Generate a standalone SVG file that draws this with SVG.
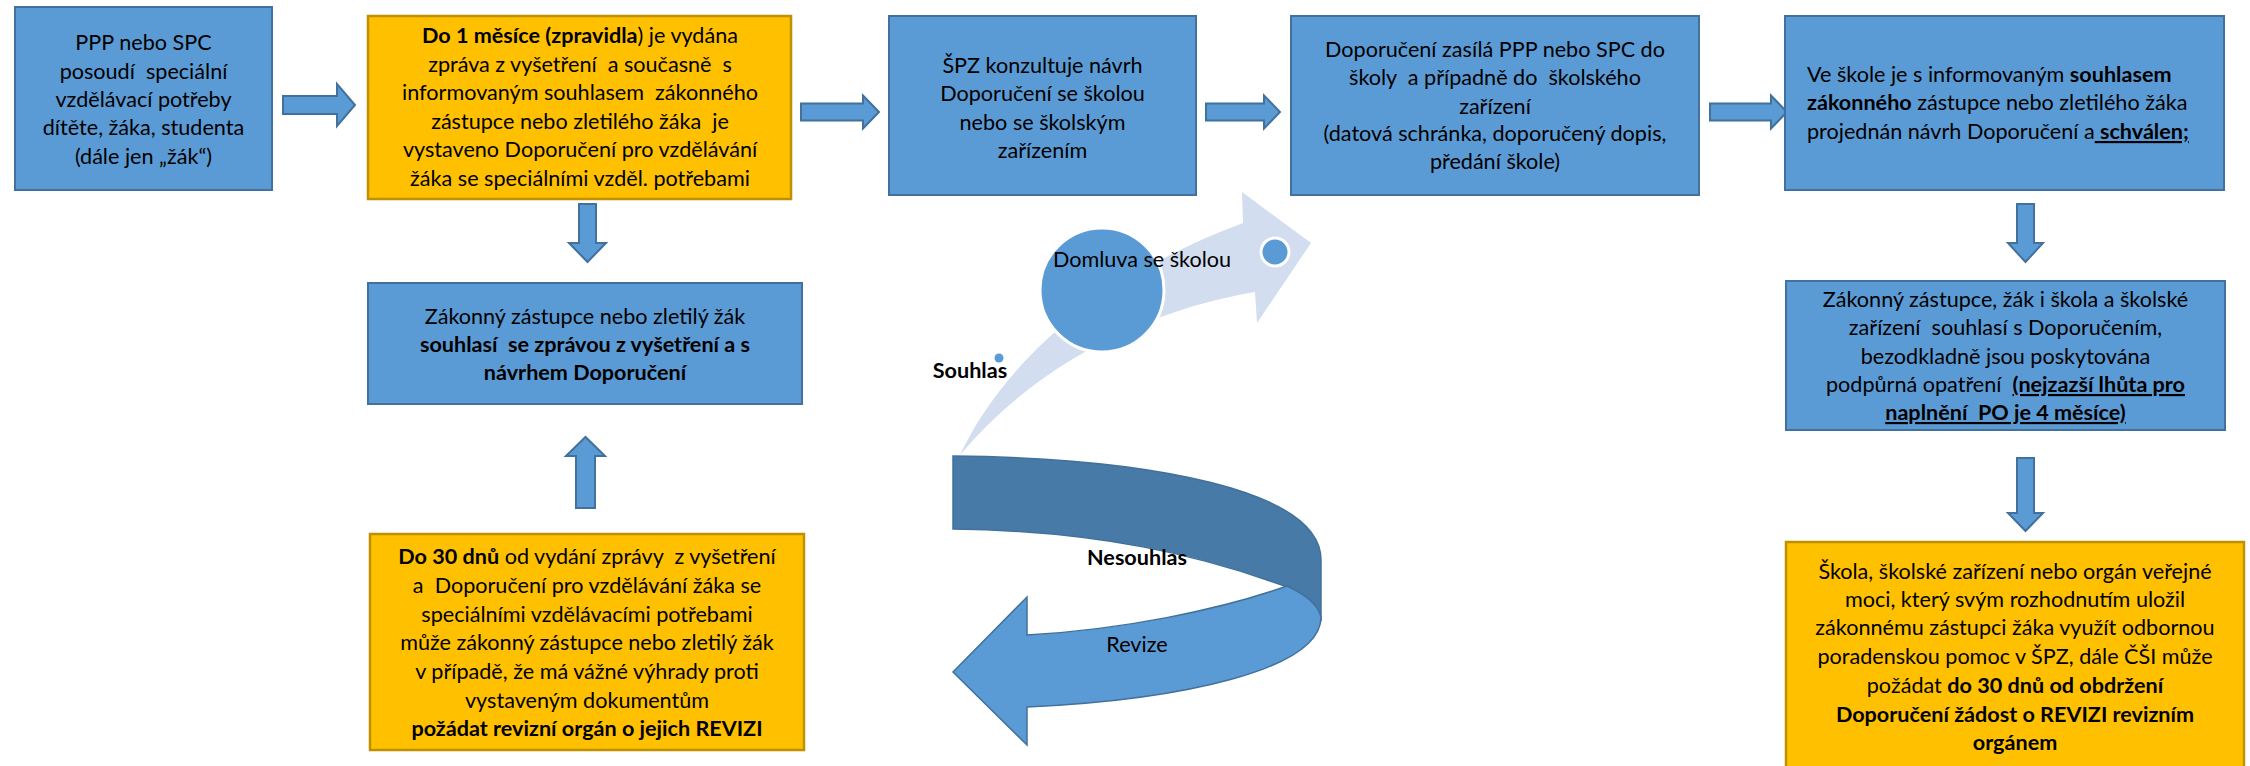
<svg xmlns="http://www.w3.org/2000/svg" width="2250" height="766" viewBox="0 0 2250 766">
<style>
.t{font-family:Lato,"Liberation Sans",sans-serif;font-size:21.6px;fill:#000;white-space:pre}
.c{text-anchor:middle}
.b{font-weight:700}
.u{text-decoration:underline}
.blue{fill:#5B9BD5;stroke:#41719C;stroke-width:2}
.orange{fill:#FFC000;stroke:#BF9000;stroke-width:2.5}
.arr{fill:#5B9BD5;stroke:#41719C;stroke-width:2;stroke-linejoin:miter}
</style>
<rect width="2250" height="766" fill="#FFFFFF"/>

<g id="connectors">
<path class="arr" d="M283,96 L337,96 L337,84 L355,105 L337,126 L337,114 L283,114 Z"/>
<path class="arr" d="M801,103.5 L863,103.5 L863,95.5 L879,112 L863,128.5 L863,120.5 L801,120.5 Z"/>
<path class="arr" d="M1206,103.5 L1264,103.5 L1264,95.5 L1280,112 L1264,128.5 L1264,120.5 L1206,120.5 Z"/>
<path class="arr" d="M1710,103.5 L1771,103.5 L1771,95.5 L1787,112 L1771,128.5 L1771,120.5 L1710,120.5 Z"/>
<path class="arr" d="M579,204 L596,204 L596,243 L606,243 L587.5,262 L569,243 L579,243 Z"/>
<path class="arr" d="M576,508 L595,508 L595,456 L605,456 L585.5,437 L566,456 L576,456 Z"/>
<path class="arr" d="M2017,204 L2034,204 L2034,243 L2043,243 L2025.5,262 L2008,243 L2017,243 Z"/>
<path class="arr" d="M2017,458 L2034,458 L2034,513 L2043,513 L2025.5,531 L2008,513 L2017,513 Z"/>
</g>

<g id="agree-flow">
<path d="M960,455 C1000,370 1090,280 1243,223 L1242,192 L1311,243 L1257,323 L1255,292 C1150,310 1040,360 960,455 Z" fill="#D2DDEF"/>
<circle cx="1102" cy="290" r="62" fill="#5B9BD5" stroke="#FFFFFF" stroke-width="3"/>
<circle cx="1275" cy="252" r="14" fill="#5B9BD5" stroke="#FFFFFF" stroke-width="3"/>
<circle cx="999" cy="358" r="4.5" fill="#5B9BD5"/>
<text class="t c" x="1142" y="267">Domluva se školou</text>
<text class="t c b" x="970" y="378">Souhlas</text>
</g>

<g id="revision-flow">
<path d="M953,456 C1150,458 1321,490 1321,560 L1321,620 L1290,588 C1200,555 1100,531 953,529 Z" fill="#477AA7" stroke="#41719C" stroke-width="1.5"/>
<path d="M1287,586 C1220,610 1120,630 1027,635 L1027,597 L953,672 L1027,745 L1027,707 C1180,700 1321,670 1321,617 C1318,603 1300,592 1287,586 Z" fill="#5B9BD5" stroke="#41719C" stroke-width="1.5"/>
<text class="t c b" x="1137" y="565">Nesouhlas</text>
<text class="t c" x="1137" y="652">Revize</text>
</g>

<g id="n1">
<rect class="blue" x="15" y="7" width="257" height="183"/>
<text class="t c" x="143.5" y="50">PPP nebo SPC</text>
<text class="t c" x="143.5" y="79">posoudí  speciální</text>
<text class="t c" x="143.5" y="107">vzdělávací potřeby</text>
<text class="t c" x="143.5" y="135">dítěte, žáka, studenta</text>
<text class="t c" x="143.5" y="164">(dále jen „žák“)</text>
</g>

<g id="n2">
<rect class="orange" x="368" y="16" width="423" height="183"/>
<text class="t c" x="580" y="43"><tspan class="b">Do 1 měsíce (zpravidla</tspan>) je vydána</text>
<text class="t c" x="580" y="71.5">zpráva z vyšetření  a současně  s</text>
<text class="t c" x="580" y="100">informovaným souhlasem  zákonného</text>
<text class="t c" x="580" y="128.5">zástupce nebo zletilého žáka  je</text>
<text class="t c" x="580" y="157">vystaveno Doporučení pro vzdělávání</text>
<text class="t c" x="580" y="185.5">žáka se speciálními vzděl. potřebami</text>
</g>

<g id="n3">
<rect class="blue" x="889" y="16" width="307" height="179"/>
<text class="t c" x="1042.5" y="72.5">ŠPZ konzultuje návrh</text>
<text class="t c" x="1042.5" y="101">Doporučení se školou</text>
<text class="t c" x="1042.5" y="129.5">nebo se školským</text>
<text class="t c" x="1042.5" y="158">zařízením</text>
</g>

<g id="n4">
<rect class="blue" x="1291" y="16" width="408" height="179"/>
<text class="t c" x="1495" y="57">Doporučení zasílá PPP nebo SPC do</text>
<text class="t c" x="1495" y="85">školy  a případně do  školského</text>
<text class="t c" x="1495" y="114">zařízení</text>
<text class="t c" x="1495" y="141">(datová schránka, doporučený dopis,</text>
<text class="t c" x="1495" y="169">předání škole)</text>
</g>

<g id="n5">
<rect class="blue" x="1785" y="16" width="439" height="174"/>
<text class="t" x="1807" y="82">Ve škole je s informovaným <tspan class="b">souhlasem</tspan></text>
<text class="t" x="1807" y="110"><tspan class="b">zákonného</tspan> zástupce nebo zletilého žáka</text>
<text class="t" x="1807" y="139">projednán návrh Doporučení a<tspan class="b u"> schválen;</tspan></text>
</g>

<g id="n6">
<rect class="blue" x="368" y="283" width="434" height="121"/>
<text class="t c" x="585" y="324">Zákonný zástupce nebo zletilý žák</text>
<text class="t c b" x="585" y="352">souhlasí  se zprávou z vyšetření a s</text>
<text class="t c b" x="585" y="380">návrhem Doporučení</text>
</g>

<g id="n7">
<rect class="orange" x="370" y="534" width="434" height="216"/>
<text class="t c" x="587" y="564"><tspan class="b">Do 30 dnů</tspan> od vydání zprávy  z vyšetření</text>
<text class="t c" x="587" y="593">a  Doporučení pro vzdělávání žáka se</text>
<text class="t c" x="587" y="622">speciálními vzdělávacími potřebami</text>
<text class="t c" x="587" y="650">může zákonný zástupce nebo zletilý žák</text>
<text class="t c" x="587" y="679">v případě, že má vážné výhrady proti</text>
<text class="t c" x="587" y="708">vystaveným dokumentům</text>
<text class="t c b" x="587" y="736">požádat revizní orgán o jejich REVIZI</text>
</g>

<g id="n8">
<rect class="blue" x="1786" y="281" width="439" height="149"/>
<text class="t c" x="2005.5" y="307">Zákonný zástupce, žák i škola a školské</text>
<text class="t c" x="2005.5" y="335">zařízení  souhlasí s Doporučením,</text>
<text class="t c" x="2005.5" y="364">bezodkladně jsou poskytována</text>
<text class="t c" x="2005.5" y="392">podpůrná opatření  <tspan class="b u">(nejzazší lhůta pro</tspan></text>
<text class="t c b u" x="2005.5" y="420">naplnění  PO je 4 měsíce)</text>
</g>

<g id="n9">
<rect class="orange" x="1786" y="542" width="458" height="240"/>
<text class="t c" x="2015" y="579">Škola, školské zařízení nebo orgán veřejné</text>
<text class="t c" x="2015" y="607">moci, který svým rozhodnutím uložil</text>
<text class="t c" x="2015" y="635">zákonnému zástupci žáka využít odbornou</text>
<text class="t c" x="2015" y="664">poradenskou pomoc v ŠPZ, dále ČŠI může</text>
<text class="t c" x="2015" y="693">požádat <tspan class="b">do 30 dnů od obdržení</tspan></text>
<text class="t c b" x="2015" y="722">Doporučení žádost o REVIZI revizním</text>
<text class="t c b" x="2015" y="750">orgánem</text>
</g>
</svg>
